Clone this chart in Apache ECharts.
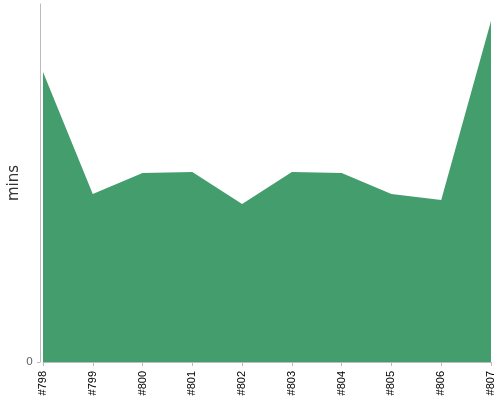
<!DOCTYPE html>
<html>
<head>
<meta charset="utf-8">
<script src="https://cdn.jsdelivr.net/npm/echarts@6/dist/echarts.min.js"></script>
<style>
  html, body { margin: 0; padding: 0; background: #fff; }
  #main { width: 500px; height: 400px; }
</style>
</head>
<body>
<div id="main"></div>
<script>
  var builds = ['#798', '#799', '#800', '#801', '#802', '#803', '#804', '#805', '#806', '#807'];
  var durations = [29.0, 16.8, 18.9, 19.0, 15.8, 19.0, 18.9, 16.8, 16.2, 34.1];
  var yTicks = [0];
  var yMax = 35.8;

  var chart = echarts.init(document.getElementById('main'));
  chart.setOption({
    animation: false,
    grid: { left: 43, right: 9, top: 4, bottom: 38, containLabel: false, outerBoundsMode: 'none' },
    xAxis: {
      type: 'category',
      data: builds,
      boundaryGap: false,
      offset: 3,
      axisLine: { lineStyle: { color: '#bbb' } },
      axisTick: { alignWithLabel: true, length: 4, lineStyle: { color: '#bbb' } },
      axisLabel: { rotate: 90, color: '#000', fontSize: 11, fontFamily: 'Liberation Sans', margin: 6, interval: 0 },
      splitLine: { show: false }
    },
    yAxis: {
      type: 'value',
      min: 0,
      max: yMax,
      offset: 3,
      name: 'mins',
      nameLocation: 'middle',
      nameGap: 18,
      nameMoveOverlap: false,
      nameTextStyle: { color: '#333', fontSize: 15, fontFamily: 'DejaVu Sans' },
      axisLine: { show: true, lineStyle: { color: '#bbb' } },
      axisTick: { show: true, length: 3, customValues: yTicks, lineStyle: { color: '#bbb' } },
      axisLabel: { color: '#666', fontSize: 11, fontFamily: 'DejaVu Sans', margin: 7, customValues: yTicks },
      splitLine: { show: false }
    },
    series: [{
      type: 'line',
      data: durations,
      symbol: 'none',
      lineStyle: { width: 0 },
      areaStyle: { color: '#449d6c', opacity: 1 }
    }]
  });
</script>
</body>
</html>
